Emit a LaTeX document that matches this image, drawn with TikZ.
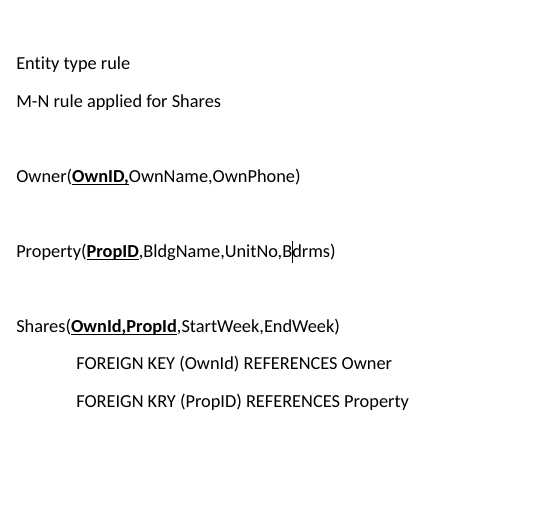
\documentclass[tikz,border=0pt]{standalone}
\usepackage{fontspec}
\setmainfont{Carlito}[Ligatures={NoCommon}]
\usetikzlibrary{calc}

% bold key with a Word-like underline
\newcommand{\pkey}[1]{\setbox0\hbox{\bfseries #1}\rlap{\rule[-2pt]{\wd0}{1pt}}\box0}
% text cursor
\newcommand{\caret}{\rlap{\kern-0.2pt\rule[-4pt]{0.75pt}{16.5pt}}}

\begin{document}
\begin{tikzpicture}[x=0.75pt,y=-0.75pt,
    line/.style={anchor=base west,inner sep=0pt,font=\fontsize{13.75pt}{16pt}\selectfont}]

    \useasboundingbox (0,0) rectangle (544,506);

    \node[line] (rule) at (16,70) {Entity type rule};
    \node[line] (mn) at (16,107.5) {M-N rule applied for Shares};

    \node[line] (owner) at (16,182.5) {Owner(\pkey{OwnID,}OwnName,OwnPhone)};
    \node[line] (property) at (16,257.5) {Property(\pkey{PropID},BldgName,UnitNo,B\caret drms)};

    \node[line] (shares) at (16,332.5) {Shares(\pkey{OwnId,PropId},StartWeek,EndWeek)};
    \node[line] (fkown) at (76,370) {FOREIGN KEY (OwnId) REFERENCES Owner};
    \node[line] (fkprop) at (76,407.5) {FOREIGN KRY (PropID) REFERENCES Property};
\end{tikzpicture}
\end{document}
